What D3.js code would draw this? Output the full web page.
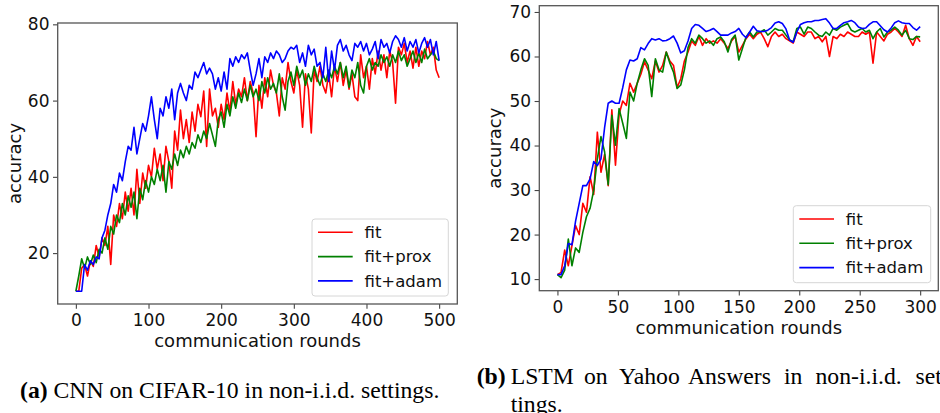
<!DOCTYPE html>
<html>
<head>
<meta charset="utf-8">
<script src="https://cdn.jsdelivr.net/npm/d3@7"></script>
<style>
  body { margin: 0; background: #fff; }
  svg { display: block; }
</style>
</head>
<body>
<div id="chart"></div>
<script>
// Data ///////////////////////////////////////////////////////////////////////////

const seriesNames = ['fit', 'fit+prox', 'fit+adam'];
const seriesColors = ['#ff0000', '#008000', '#0000ff'];

// (a) CNN on CIFAR-10, one value every 4 rounds (0..500)
const roundsCifar = d3.range(0, 501, 4);
const cifarFit = [
  10,10,16,17,14,18,16.5,22,19,24,
  22,27,17,30,27,33,29,36,31,37,
  30,42,33,41,37,43,40,47.5,42,46,
  39,48,44,37,52,47,57.5,50,55,49,
  57,52,59,55.8,62.5,48,63,56,58,53,
  59,55,62,57,65,59,63,61,66,60,
  65,62,50.5,64,58,66,61,68,64,62,
  56,66,63,70,65,62,68,64,53,67,
  63,51.5,68,65,69,64,62,67,61,69,
  65,70,64,68,63,67,61,60,72,66,
  69,63,71,67,73,68,72,66,73,70,
  59.3,74,72,75,70,73,68.5,74,69,73,
  71,75.5,72,74,68,66
];
const cifarProx = [
  10,14,18.5,16,19,17,19.5,17.5,21,20,
  24,21,27,25,30,28,33,30,35,32,
  36,29,37,34,39,36,40,38,42,39,
  43,36,44,42,46,43,47,45,48,46,
  49,47.5,51,49,52,50,54,51,48,55,
  57,53,59,56,61,58,62,59.5,63,60,
  64,61,63,60,65,62,66,63,64.5,62,
  67,61,57.5,65,67.5,64,69,66,68,64,
  67,65,69,66,64,67,65,68,66,69,
  67,70,66,69,63.5,68,66,70,64,62,
  69,71,68,70,69,72,70,71.5,69,72,
  70,73,70.5,72,69,71,73,70,72.5,70,
  73.5,71,72,73,71,70.5
];
const cifarAdam = [
  10,10,10,17,15.5,18,17,19,18.5,24,
  26,30,33,38,36,41,39,44,48,47,
  53,46,50,54,52,56,61,55,50,58,
  56,61,58,63,55,62,64.5,62,60,64,
  63,67.5,66,68,70,67,68.5,67,63,66,
  62.5,67.5,63,71,69,71.5,70,72,71,72.5,
  68,64,67,71,66,71.5,70,72.5,71,73,
  72,70,71,73,74,73.5,74.5,70,72.5,69,
  74.5,72,73.5,69,70,66,74,65,73,68,
  74.5,76,73,74.5,72,70.5,75,74,75.5,73,
  75,72,73.5,75.5,71,76,74,75,72.5,75.5,
  77,76,74,76.5,73,75.5,74,76,72.5,75,
  76.5,74,76,72,75.5,70.5
];

// (b) LSTM on Yahoo Answers, one value every 3 rounds (0..300)
const roundsYahoo = d3.range(0, 301, 3);
const yahooFit = [
  11,11.5,16.5,13,17.5,22,20,27,25,33,
  29,43,34,38,31,48,35.6,47,50,49,
  54,52,54,56,58.8,57,55,59,56.5,58,
  61,59,58,53,55,59,61,63.5,62.5,64.5,
  62.5,64,63,63.5,63,64,63,61.8,63.5,64.5,
  61,62.5,64,65,64,65,65.5,64,62.2,64.5,
  65.5,64.5,65,64,63.5,63,65.5,65,64.5,65.5,
  65.5,64,64.5,63.3,64.5,60,64.5,64,65,64.5,
  65.5,65,64.5,64.5,65.5,65,65.5,58.5,65.5,64.5,
  63.5,65,65.5,66.3,65.5,64.5,67,64,62.5,64.5,
  63.3
];
const yahooProx = [
  11,10.3,12,19,13,17,16,20.5,24,25.9,
  30,37,42,38.6,31.2,46.8,40.1,48.3,45,41.6,
  52,50,54,57,59.5,58,51,59.5,57,56.5,
  61,58.5,56.5,52.8,53.6,57,62,64,63,64.8,
  64,63,63.5,62.5,64,64.4,63.3,61,63.8,64.8,
  59.2,61.8,64.4,65.5,64.4,65.5,65.5,66,64.8,65.5,
  66.3,65.9,65.9,64.8,63.7,63.3,66.3,66.6,65,66.6,
  66.3,65.5,64.8,64.5,65.5,64.8,66.3,65.9,66.6,67,
  67.4,65.9,65.5,65.9,66.3,65.5,65.9,64,65.5,66.3,
  64.4,65.5,65.9,66.6,65.9,64.8,65.9,64,63.8,64.5,
  64.4
];
const yahooAdam = [
  11,11,13,18,17.7,23,27,31,31,32.5,
  36.4,35.5,37,44,49.5,50,49.5,49.5,53,57,
  59.2,59,59.5,62,61.5,62.9,64,63.7,64,63.5,
  63.6,64,64.6,63,60.8,61.3,63.5,66.3,67.2,67,
  66.3,65.6,65.9,66.3,65.6,64.8,64.8,64.8,65.3,65.6,
  66.3,65,64.2,65.5,66.8,65.8,65.6,65.6,65.9,66.5,
  67.5,67.8,67.4,66.2,63.7,63.2,65.5,67.2,67.6,67.8,
  67.8,68.1,68.1,68.3,68.5,67.5,66.3,66.3,67,67.6,
  67.8,68.1,67.6,66.6,66.3,66.4,67.2,67.8,67.8,66.9,
  66,65.5,66.4,67.6,68,67.6,67.4,67.4,66.5,65.9,
  66.7
];

const xTicksCifar = [0, 100, 200, 300, 400, 500];
const yTicksCifar = [20, 40, 60, 80];
const xTicksYahoo = [0, 50, 100, 150, 200, 250, 300];
const yTicksYahoo = [10, 20, 30, 40, 50, 60, 70];

const xLabel = 'communication rounds';
const yLabel = 'accuracy';

// Layout ///////////////////////////////////////////////////////////////////////////

const width = 940, height = 413;
const sans = 'DejaVu Sans, sans-serif';
const serif = 'Liberation Serif, Times New Roman, serif';

const svg = d3.select('#chart').append('svg')
  .attr('width', width)
  .attr('height', height)
  .attr('viewBox', [0, 0, width, height]);

function drawPanel(cfg) {
  const g = svg.append('g');
  const { left, top, right, bottom } = cfg.box;

  // matplotlib style 5% margins
  const xe = d3.extent(cfg.rounds);
  const xm = (xe[1] - xe[0]) * 0.05;
  const allY = cfg.series.flat();
  const ye = d3.extent(allY);
  const ym = (ye[1] - ye[0]) * 0.05;

  const x = d3.scaleLinear().domain([xe[0] - xm, xe[1] + xm]).range([left, right]);
  const y = d3.scaleLinear().domain([ye[0] - ym, ye[1] + ym]).range([bottom, top]);

  // lines
  const line = d3.line()
    .x((d, i) => x(cfg.rounds[i]))
    .y(d => y(d));

  g.append('g')
    .attr('fill', 'none')
    .attr('stroke-width', 1.6)
    .attr('stroke-linejoin', 'round')
    .selectAll('path')
    .data(cfg.series)
    .join('path')
    .attr('stroke', (d, i) => seriesColors[i])
    .attr('d', d => line(d));

  // axes
  const xAxis = g.append('g')
    .attr('transform', `translate(0,${bottom})`)
    .call(d3.axisBottom(x).tickValues(cfg.xTicks).tickSize(4.7).tickSizeOuter(0).tickPadding(5.5));
  const yAxis = g.append('g')
    .attr('transform', `translate(${left},0)`)
    .call(d3.axisLeft(y).tickValues(cfg.yTicks).tickSize(4.7).tickSizeOuter(0).tickPadding(3.5));

  [xAxis, yAxis].forEach(a => {
    a.select('.domain').remove();
    a.selectAll('line').attr('stroke', '#444').attr('stroke-width', 1.1);
    a.selectAll('text')
      .attr('fill', '#111')
      .style('font-family', sans)
      .style('font-size', '17px');
  });

  // frame
  g.append('rect')
    .attr('x', left).attr('y', top)
    .attr('width', right - left).attr('height', bottom - top)
    .attr('fill', 'none')
    .attr('stroke', '#555')
    .attr('stroke-width', 1.3);

  // axis titles
  g.append('text')
    .attr('x', (left + right) / 2)
    .attr('y', cfg.xLabelY)
    .attr('text-anchor', 'middle')
    .style('font-family', sans)
    .style('font-size', '18px')
    .attr('fill', '#111')
    .text(xLabel);

  g.append('text')
    .attr('transform', `translate(${cfg.yLabelX},${(top + bottom) / 2}) rotate(-90)`)
    .attr('text-anchor', 'middle')
    .style('font-family', sans)
    .style('font-size', '18px')
    .attr('fill', '#111')
    .text(yLabel);

  // legend
  const lg = cfg.legend;
  const legend = g.append('g').attr('transform', `translate(${lg.x},${lg.y})`);
  legend.append('rect')
    .attr('width', lg.w).attr('height', lg.h)
    .attr('rx', 3)
    .attr('fill', '#fff').attr('fill-opacity', 0.8)
    .attr('stroke', '#d6d6d6').attr('stroke-width', 1);

  const item = legend.selectAll('g.item')
    .data(seriesNames)
    .join('g')
    .attr('class', 'item')
    .attr('transform', (d, i) => `translate(0,${13.3 + i * 24.3})`);
  item.append('line')
    .attr('x1', 6).attr('x2', 40.7)
    .attr('stroke', (d, i) => seriesColors[i])
    .attr('stroke-width', 1.6);
  item.append('text')
    .attr('x', 52.5).attr('y', 5.8)
    .style('font-family', sans)
    .style('font-size', '16.5px')
    .attr('fill', '#111')
    .text(d => d);
}

drawPanel({
  box: { left: 57.7, top: 23, right: 457.3, bottom: 304 },
  rounds: roundsCifar,
  series: [cifarFit, cifarProx, cifarAdam],
  xTicks: xTicksCifar,
  yTicks: yTicksCifar,
  xLabelY: 347,
  yLabelX: 21,
  legend: { x: 312, y: 219, w: 136.3, h: 77 }
});

drawPanel({
  box: { left: 539.3, top: 5.7, right: 938.3, bottom: 290.7 },
  rounds: roundsYahoo,
  series: [yahooFit, yahooProx, yahooAdam],
  xTicks: xTicksYahoo,
  yTicks: yTicksYahoo,
  xLabelY: 334,
  yLabelX: 501,
  legend: { x: 793.3, y: 205.7, w: 137.4, h: 77 }
});

// Captions ////////////////////////////////////////////////////////////////////////

const capA = svg.append('text')
  .attr('x', 20).attr('y', 398.3)
  .style('font-family', serif)
  .style('font-size', '23.7px')
  .attr('fill', '#000');
capA.append('tspan').attr('font-weight', 'bold').text('(a)');
capA.append('tspan').text(' CNN on CIFAR-10 in non-i.i.d. settings.');

const capB = svg.append('g')
  .style('font-family', serif)
  .style('font-size', '23.7px')
  .attr('fill', '#000');
capB.append('text').attr('x', 476.7).attr('y', 384.3).attr('font-weight', 'bold').text('(b)');

const capBWords = ['LSTM', 'on', 'Yahoo', 'Answers', 'in', 'non-i.i.d.', 'set-'];
const capBWordX = [510.7, 584, 619, 688, 784, 815.5, 915.5];
capB.selectAll('text.w')
  .data(capBWords)
  .join('text')
  .attr('class', 'w')
  .attr('x', (d, i) => capBWordX[i])
  .attr('y', 384.3)
  .text(d => d);
capB.append('text').attr('x', 510.7).attr('y', 411.5).text('tings.');
</script>
</body>
</html>
